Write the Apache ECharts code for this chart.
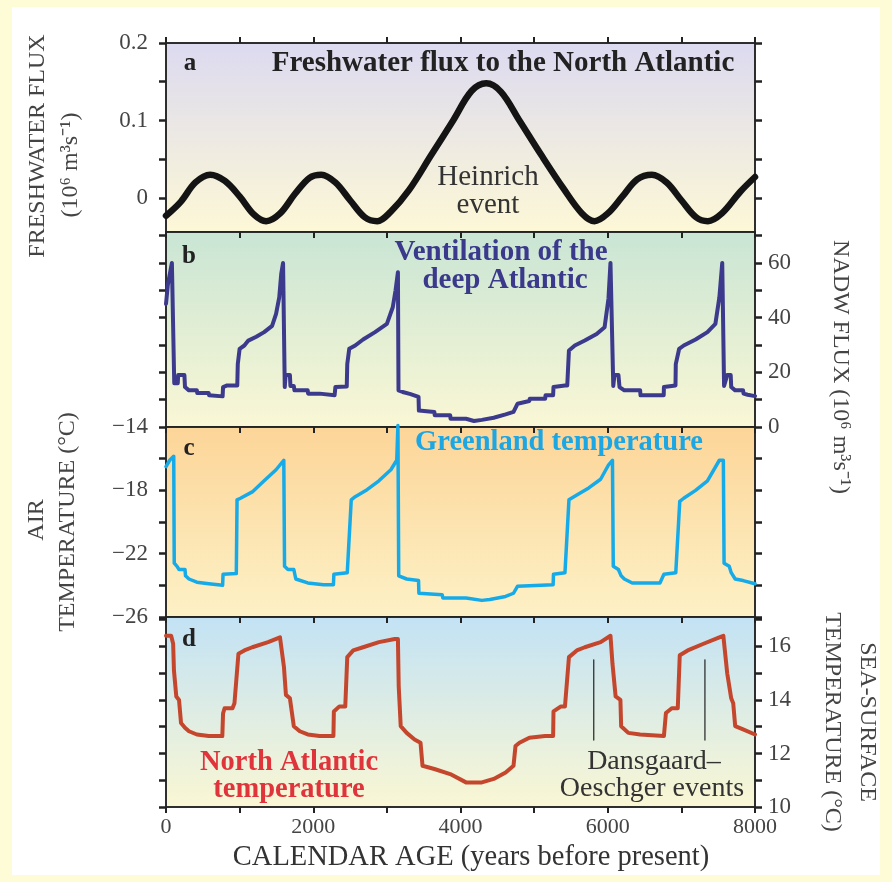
<!DOCTYPE html>
<html>
<head>
<meta charset="utf-8">
<script src="https://cdn.jsdelivr.net/npm/echarts@6/dist/echarts.min.js"></script>
<style>
  html, body { margin: 0; padding: 0; background: #fdfcd6; }
  #main { width: 892px; height: 882px; }
</style>
</head>
<body>
<div id="main"></div>
<script>
// panel a: freshwater flux (Sv), [year, value]
var fluxPoints = [
  [0, -0.023], [200, -0.005], [400, 0.02], [600, 0.03], [800, 0.022], [1000, 0.002],
  [1200, -0.022], [1360, -0.03], [1550, -0.02], [1750, 0.005], [1950, 0.026], [2110, 0.03],
  [2300, 0.02], [2500, -0.003], [2700, -0.025], [2870, -0.03], [3050, -0.018], [3300, 0.01],
  [3600, 0.055], [3900, 0.1], [4150, 0.138], [4350, 0.148], [4550, 0.137], [4800, 0.1],
  [5100, 0.055], [5400, 0.012], [5650, -0.02], [5820, -0.03], [6000, -0.02], [6200, 0.002],
  [6400, 0.024], [6600, 0.03], [6800, 0.02], [7000, -0.003], [7200, -0.025], [7360, -0.03],
  [7550, -0.02], [7800, 0.008], [8000, 0.027]
];

// panel b: NADW flux (Sv)
var nadwPoints = [
  [0, 45], [25, 52], [80, 60], [105, 60], [112, 16], [160, 16], [165, 19], [250, 19],
  [258, 14.6], [312, 13.4], [419, 13.4], [425, 12.4], [580, 12.4], [585, 11.6], [769, 11.2],
  [775, 14.6], [830, 15.2], [968, 15.2], [975, 23], [1000, 28.6], [1064, 29.8], [1118, 31.6],
  [1226, 33], [1333, 34.7], [1441, 37], [1495, 41.4], [1538, 47.4], [1565, 56], [1590, 60],
  [1605, 60], [1613, 14.6], [1625, 19], [1683, 19], [1690, 15], [1736, 15], [1745, 13.4],
  [1925, 13.4], [1930, 12.2], [2086, 12.2], [2090, 11.6], [2290, 11.6], [2301, 14.6],
  [2455, 14.8], [2462, 23], [2489, 28.6], [2570, 29.8], [2677, 32], [2839, 34.7], [3000, 37.7],
  [3080, 43.8], [3118, 50], [3150, 56.6], [3158, 13.4], [3215, 12.8], [3322, 12], [3430, 11],
  [3435, 6], [3645, 5.5], [3650, 4.3], [3860, 4.3], [3865, 3], [4075, 3], [4183, 2.2],
  [4290, 2.6], [4451, 3.4], [4613, 4.6], [4720, 5.5], [4747, 5.5], [4774, 8.5], [4935, 9.5],
  [4940, 10.3], [5150, 10.3], [5155, 11.6], [5258, 11.6], [5263, 14.6], [5419, 15.2],
  [5450, 15.2], [5473, 28], [5553, 29.8], [5688, 31.6], [5849, 34], [5957, 36.5], [6010, 47],
  [6037, 60], [6064, 60], [6075, 15], [6091, 19], [6145, 19], [6160, 14.6], [6225, 13.4],
  [6440, 13.4], [6445, 11.6], [6760, 11.6], [6763, 14.6], [6920, 15.2], [6924, 23],
  [6970, 28.6], [7032, 29.8], [7193, 32], [7354, 34.7], [7462, 37.7], [7516, 47.4], [7555, 60],
  [7575, 60], [7580, 15], [7623, 19], [7670, 19], [7677, 14.6], [7731, 13.4], [7838, 13.4],
  [7845, 12.2], [7900, 11.8], [8000, 11.3]
];

// panel c: Greenland air temperature (°C)
var greenlandPoints = [
  [0, -16.5], [50, -16.1], [105, -15.85], [112, -22.6], [150, -22.8], [177, -23.0], [258, -23.0],
  [265, -23.4], [312, -23.6], [419, -23.8], [581, -23.9], [769, -24.0], [775, -23.3],
  [955, -23.26], [965, -18.6], [1011, -18.5], [1172, -18.1], [1333, -17.4], [1495, -16.7],
  [1600, -16.1], [1610, -22.8], [1656, -23.0], [1736, -23.0], [1763, -23.6], [1925, -23.85],
  [2140, -23.96], [2274, -23.96], [2280, -23.3], [2462, -23.2], [2516, -18.6], [2570, -18.4],
  [2731, -17.96], [2892, -17.4], [3054, -16.7], [3134, -16.1], [3150, -13.9], [3161, -23.4],
  [3269, -23.6], [3430, -23.7], [3435, -24.5], [3752, -24.6], [3760, -24.8], [4075, -24.8],
  [4290, -24.95], [4398, -24.9], [4613, -24.7], [4720, -24.5], [4774, -24.06], [5258, -23.96],
  [5263, -23.3], [5419, -23.2], [5473, -18.6], [5580, -18.3], [5742, -17.85], [5903, -17.3],
  [6010, -16.4], [6064, -16.1], [6075, -22.8], [6145, -23.0], [6182, -23.4], [6225, -23.6],
  [6333, -23.85], [6709, -23.85], [6763, -23.3], [6924, -23.2], [6978, -18.7], [7032, -18.5],
  [7193, -18.0], [7354, -17.4], [7516, -16.1], [7570, -16.1], [7580, -22.6], [7650, -22.8],
  [7677, -23.2], [7731, -23.6], [7838, -23.7], [8000, -23.9]
];

// panel d: North Atlantic sea-surface temperature (°C)
var sstPoints = [
  [0, 16.4], [70, 16.4], [97, 16.1], [108, 15.1], [140, 14.13], [177, 14.0], [190, 14.0],
  [204, 13.14], [258, 12.96], [312, 12.83], [419, 12.71], [581, 12.65], [765, 12.65],
  [775, 13.5], [796, 13.69], [903, 13.69], [930, 13.88], [984, 15.73], [1064, 15.85],
  [1172, 15.97], [1387, 16.16], [1548, 16.34], [1575, 16.4], [1602, 15.23], [1629, 14.19],
  [1683, 14.06], [1710, 14.06], [1736, 13.02], [1817, 12.83], [1925, 12.71], [2086, 12.65],
  [2274, 12.65], [2280, 13.57], [2355, 13.76], [2435, 13.76], [2462, 15.6], [2543, 15.85],
  [2677, 15.97], [2892, 16.16], [3107, 16.28], [3150, 16.28], [3161, 14.5], [3188, 13.02],
  [3269, 12.77], [3376, 12.52], [3457, 12.4], [3484, 11.54], [3645, 11.42], [3860, 11.23],
  [4075, 10.92], [4290, 10.92], [4451, 11.05], [4613, 11.29], [4720, 11.54], [4747, 12.28],
  [4801, 12.4], [4935, 12.59], [5150, 12.65], [5258, 12.65], [5263, 13.57], [5365, 13.76],
  [5419, 13.76], [5473, 15.6], [5580, 15.85], [5688, 15.97], [5903, 16.16], [6037, 16.4],
  [6064, 15.36], [6107, 14.13], [6172, 14.0], [6182, 13.02], [6279, 12.77], [6440, 12.71],
  [6763, 12.65], [6790, 13.51], [6870, 13.69], [6951, 13.69], [6978, 15.67], [7086, 15.85],
  [7301, 16.1], [7516, 16.34], [7570, 16.4], [7623, 14.99], [7677, 14.06], [7704, 13.88],
  [7731, 13.02], [7838, 12.9], [8000, 12.71]
];

// Dansgaard-Oeschger marker lines: [year, top, bottom]
var doMarkers = [[5810, 15.5, 12.5], [7320, 15.5, 12.5]];

var xTicks = [0, 1000, 2000, 3000, 4000, 5000, 6000, 7000, 8000];
var xLabels = [0, 2000, 4000, 6000, 8000];
var fluxTicks = [0, 0.05, 0.1, 0.15, 0.2];
var fluxLabels = [0, 0.1, 0.2];
var nadwTicks = [0, 10, 20, 30, 40, 50, 60, 70];
var nadwLabels = [0, 20, 40, 60];
var airTicks = [-26, -24, -22, -20, -18, -16, -14];
var airLabels = [-26, -22, -18, -14];
var sstTicks = [10, 11, 12, 13, 14, 15, 16, 17];
var sstLabels = [10, 12, 14, 16];

var serif = 'Liberation Serif';
var ink = '#222';

function grad(top, bottom) {
  return {
    type: 'linear', x: 0, y: 0, x2: 0, y2: 1,
    colorStops: [{ offset: 0, color: top }, { offset: 1, color: bottom }]
  };
}

var panelTops = [43, 232, 427, 617];
var panelBottoms = [232, 427, 617, 807];
var panelBg = [
  grad('#dcdaf0', '#fdf8d6'),
  grad('#c9e5d4', '#faf7d5'),
  grad('#fcd598', '#fdf1c6'),
  grad('#c2e2f5', '#faf7d3')
];

var grids = panelTops.map(function (t, i) {
  return {
    left: 166, right: 137, top: t, height: panelBottoms[i] - t,
    show: true, backgroundColor: panelBg[i],
    borderColor: ink, borderWidth: 1.5
  };
});

var plainFmt = function (v) { return String(v); };
var minusFmt = function (v) { return v < 0 ? '\u2212' + Math.abs(v) : String(v); };

function xAxisFor(i, pos, withLabels) {
  return {
    type: 'value', gridIndex: i, position: pos, min: 0, max: 8000,
    axisLine: { show: true, onZero: false, lineStyle: { color: ink, width: 1.5 } },
    axisTick: { show: true, length: 6, customValues: xTicks, lineStyle: { color: ink, width: 2 } },
    axisLabel: {
      show: withLabels, customValues: xLabels, margin: 9,
      color: '#444', fontFamily: serif, fontSize: 22, formatter: plainFmt
    },
    splitLine: { show: false }
  };
}

function yAxisFor(i, pos, min, max, ticks, labels, fmt) {
  return {
    type: 'value', gridIndex: i, position: pos, min: min, max: max,
    axisLine: { show: true, onZero: false, lineStyle: { color: ink, width: 1.5 } },
    axisTick: { show: true, length: 7, customValues: ticks, lineStyle: { color: ink, width: 2.5 } },
    axisLabel: {
      show: !!labels, customValues: labels || ticks, margin: pos === 'left' ? 18 : 13,
      color: '#444', fontFamily: serif, fontSize: 23,
      formatter: fmt || plainFmt
    },
    splitLine: { show: false }
  };
}

var xAxes = [
  xAxisFor(0, 'bottom', false),
  xAxisFor(1, 'bottom', false),
  xAxisFor(2, 'bottom', false),
  xAxisFor(3, 'bottom', true),
  xAxisFor(0, 'top', false)
];

var yAxes = [
  yAxisFor(0, 'left', -0.044, 0.2, fluxTicks, fluxLabels),
  yAxisFor(0, 'right', -0.044, 0.2, fluxTicks, null),
  yAxisFor(1, 'left', 0, 71.3, nadwTicks, null),
  yAxisFor(1, 'right', 0, 71.3, nadwTicks, nadwLabels),
  yAxisFor(2, 'left', -26, -14, airTicks, airLabels, minusFmt),
  yAxisFor(2, 'right', -26, -14, airTicks, null),
  yAxisFor(3, 'left', 10, 17.1, sstTicks, null),
  yAxisFor(3, 'right', 10, 17.1, sstTicks, sstLabels)
];

function lineSeries(name, data, xi, yi, color, width, smooth) {
  return {
    name: name, type: 'line', xAxisIndex: xi, yAxisIndex: yi,
    data: data, showSymbol: false, smooth: smooth || false, clip: false,
    lineStyle: { color: color, width: width, cap: 'round', join: 'round' },
    silent: true, animation: false, z: 3
  };
}

var series = [
  lineSeries('flux', fluxPoints, 0, 0, '#141414', 6.5, 0.35),
  lineSeries('nadw', nadwPoints, 1, 3, '#3c3a8d', 4),
  lineSeries('greenland', greenlandPoints, 2, 4, '#16abe8', 3.5),
  lineSeries('sst', sstPoints, 3, 7, '#c4472d', 4)
];
doMarkers.forEach(function (m, k) {
  series.push(lineSeries('do' + k, [[m[0], m[1]], [m[0], m[2]]], 3, 7, '#222', 1.2));
});

function txt(text, x, y, size, color, weight, rot) {
  return {
    type: 'text', x: x, y: y, rotation: rot || 0, z: 100,
    style: {
      text: text, fill: color, fontFamily: serif, fontSize: size,
      fontWeight: weight || 'normal',
      align: 'center', verticalAlign: 'middle',
      textAlign: 'center', textVerticalAlign: 'middle'
    }
  };
}

var R = Math.PI / 2;
var graphics = [
  { type: 'rect', z: -10, shape: { x: 12, y: 7, width: 868, height: 868 }, style: { fill: '#ffffff' } },
  txt('a', 190, 64, 25, '#222', 'bold'),
  txt('Freshwater flux to the North Atlantic', 503, 64, 29, '#222', 'bold'),
  txt('Heinrich', 488, 177, 29, '#333'),
  txt('event', 488, 205, 29, '#333'),
  txt('b', 189, 257, 25, '#222', 'bold'),
  txt('Ventilation of the', 501, 253, 29, '#3b398c', 'bold'),
  txt('deep Atlantic', 505, 281, 29, '#3b398c', 'bold'),
  txt('c', 189, 449, 25, '#222', 'bold'),
  txt('Greenland temperature', 559, 443, 28.5, '#1ca7e4', 'bold'),
  txt('d', 189, 640, 25, '#222', 'bold'),
  txt('North Atlantic', 289, 763, 28.5, '#e0343c', 'bold'),
  txt('temperature', 289, 790, 28.5, '#e0343c', 'bold'),
  txt('Dansgaard\u2013', 654, 762, 28, '#333'),
  txt('Oeschger events', 652, 789, 28, '#333'),
  txt('CALENDAR AGE (years before present)', 471, 858, 28.5, '#333'),
  txt('FRESHWATER FLUX', 38, 146, 24, '#444', 'normal', R),
  txt('(10\u2076 m\u00b3s\u207b\u00b9)', 71, 165, 24, '#444', 'normal', R),
  txt('AIR', 37, 520, 24, '#444', 'normal', R),
  txt('TEMPERATURE (\u00b0C)', 68, 522, 24, '#444', 'normal', R),
  txt('NADW FLUX (10\u2076 m\u00b3s\u207b\u00b9)', 840, 367, 24, '#444', 'normal', -R),
  txt('SEA-SURFACE', 867, 722, 24, '#444', 'normal', -R),
  txt('TEMPERATURE (\u00b0C)', 832, 722, 24, '#444', 'normal', -R)
];

var chart = echarts.init(document.getElementById('main'));
chart.setOption({
  backgroundColor: '#fdfcd6',
  animation: false,
  grid: grids,
  xAxis: xAxes,
  yAxis: yAxes,
  series: series,
  graphic: { elements: graphics }
});
</script>
</body>
</html>
